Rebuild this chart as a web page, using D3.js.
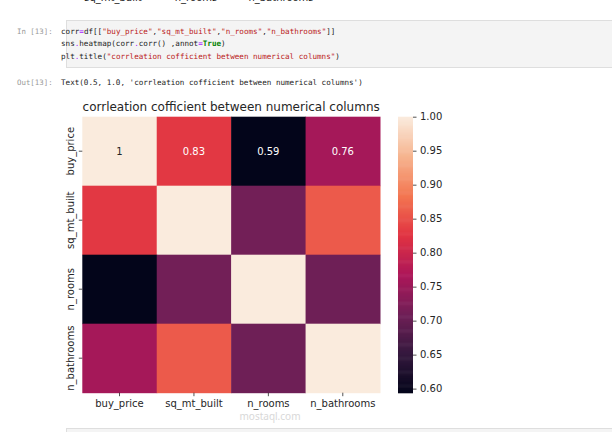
<!DOCTYPE html>
<html><head><meta charset="utf-8">
<script src="https://cdn.jsdelivr.net/npm/d3@7"></script>
<style>html,body{margin:0;padding:0;background:#fff;}svg{display:block;}</style>
</head><body>
<svg id="c" width="612" height="432"></svg>
<script>
const labels = ["buy_price","sq_mt_built","n_rooms","n_bathrooms"];
const corrRows = [
  [1.00, 0.83, 0.594, 0.76],
  [0.83, 1.00, 0.712, 0.86],
  [0.594, 0.712, 1.00, 0.708],
  [0.76, 0.86, 0.708, 1.00]
];
const annotText = [["1","0.83","0.59","0.76"]];
const cbTicks = [0.60,0.65,0.70,0.75,0.80,0.85,0.90,0.95,1.00];
const rocketStops = ["#03051a","#35193e","#701f57","#ad1759","#e13342","#f37651","#f6b48f","#faebdd"];
const vmin = 0.594, vmax = 1.0;

const svg = d3.select("#c");
const mono = "'DejaVu Sans Mono', monospace";
const sans = "'DejaVu Sans', sans-serif";

// --- notebook chrome ---
const topCut = [["sq_mt_built",113],["n_rooms",196],["n_bathrooms",281]];
svg.selectAll("text.cut").data(topCut).join("text")
  .attr("x",d=>d[1]).attr("y",0.8).attr("text-anchor","middle")
  .attr("font-family",sans).attr("font-size",10).attr("fill","#222").text(d=>d[0]);

svg.append("rect").attr("x",66.5).attr("y",20.5).attr("width",560).attr("height",47)
  .attr("fill","#f4f4f4").attr("stroke","#dedede");
svg.append("text").attr("x",17).attr("y",34).attr("font-family",mono).attr("font-size",7.4)
  .attr("fill","#999").text("In [13]:");
svg.append("text").attr("x",17).attr("y",85).attr("font-family",mono).attr("font-size",7.4)
  .attr("fill","#999").text("Out[13]:");

const P="#aa22ff", S="#ba2121", K="#222", G="#008000";
const codeLines = [
  [["corr",K],["=",P],["df[[",K],["\"buy_price\"",S],[",",K],["\"sq_mt_built\"",S],[",",K],["\"n_rooms\"",S],[",",K],["\"n_bathrooms\"",S],["]]",K]],
  [["sns",K],[".",P],["heatmap(corr",K],[".",P],["corr() ,annot",K],["=",P],["True",G,"bold"],[")",K]],
  [["plt",K],[".",P],["title(",K],["\"corrleation cofficient between numerical columns\"",S],[")",K]]
];
codeLines.forEach((ln,i)=>{
  const t = svg.append("text").attr("x",61).attr("y",34+i*12.3)
    .attr("font-family",mono).attr("font-size",7.6).attr("xml:space","preserve");
  ln.forEach(s=>t.append("tspan").attr("fill",s[1]).attr("font-weight",s[2]||"normal").text(s[0]));
});
svg.append("text").attr("x",61).attr("y",85).attr("font-family",mono).attr("font-size",7.6)
  .attr("fill","#222").text("Text(0.5, 1.0, 'corrleation cofficient between numerical columns')");

svg.append("rect").attr("x",66.5).attr("y",428.5).attr("width",560).attr("height",20)
  .attr("fill","#f4f4f4").attr("stroke","#dedede");

// --- heatmap ---
const L=82.3, R=380, T=116.7, B=392.7;
const x = d3.scaleBand().domain(labels).range([L,R]);
const y = d3.scaleBand().domain(labels).range([T,B]);
const rocket = d3.scaleLinear().domain(rocketStops.map((d,i)=>i/(rocketStops.length-1)))
  .range(rocketStops).interpolate(d3.interpolateRgb).clamp(true);
const color = v => rocket((v-vmin)/(vmax-vmin));

const cells = [];
corrRows.forEach((row,i)=>row.forEach((v,j)=>cells.push({r:labels[i],c:labels[j],v,i,j})));
svg.append("g").selectAll("rect").data(cells).join("rect")
  .attr("x",d=>x(d.c)).attr("y",d=>y(d.r))
  .attr("width",x.bandwidth()+0.5).attr("height",y.bandwidth()+0.5)
  .attr("fill",d=>color(d.v));

const ann = [];
annotText.forEach((row,i)=>row.forEach((t,j)=>ann.push({t,i,j,v:corrRows[i][j]})));
svg.append("g").selectAll("text").data(ann).join("text")
  .attr("x",d=>x(labels[d.j])+x.bandwidth()/2).attr("y",d=>y(labels[d.i])+y.bandwidth()/2)
  .attr("dy","0.35em").attr("text-anchor","middle").attr("font-family",sans).attr("font-size",10)
  .attr("fill",d=>d.v>0.9?"#262626":"#ffffff").text(d=>d.t);

// axes
const xAxis = svg.append("g").attr("transform",`translate(0,${B})`)
  .call(d3.axisBottom(x).tickSize(3.5).tickPadding(3.5));
xAxis.select(".domain").remove();
xAxis.selectAll("text").attr("font-family",sans).attr("font-size",10).attr("fill","#262626");
xAxis.selectAll("line").attr("stroke","#262626").attr("stroke-width",0.8);

const yAxis = svg.append("g").attr("transform",`translate(${L},0)`)
  .call(d3.axisLeft(y).tickSize(3.5).tickPadding(3.5));
yAxis.select(".domain").remove();
yAxis.selectAll("line").attr("stroke","#262626").attr("stroke-width",0.8);
yAxis.selectAll("text").attr("font-family",sans).attr("font-size",10).attr("fill","#262626")
  .attr("text-anchor","middle").attr("dy",null).attr("x",null)
  .attr("transform",d=>`translate(-12,${0}) rotate(-90)`).attr("dy","0.35em");

// title
svg.append("text").attr("x",(L+R)/2).attr("y",110.5).attr("text-anchor","middle")
  .attr("font-family",sans).attr("font-size",12).attr("fill","#262626")
  .text("corrleation cofficient between numerical columns");

// colorbar
const cbL=398, cbW=15;
const cy = d3.scaleLinear().domain([vmin,vmax]).range([B,T]);
const steps = d3.range(0,256);
svg.append("g").selectAll("rect").data(steps).join("rect")
  .attr("x",cbL).attr("width",cbW)
  .attr("y",d=>cy(vmin+(d+1)/256*(vmax-vmin)))
  .attr("height",(B-T)/256+0.6)
  .attr("fill",d=>rocket((d+0.5)/256));
const cAxis = svg.append("g").attr("transform",`translate(${cbL+cbW},0)`)
  .call(d3.axisRight(cy).tickValues(cbTicks).tickFormat(d3.format(".2f")).tickSize(3.5).tickPadding(3.5));
cAxis.select(".domain").remove();
cAxis.selectAll("line").attr("stroke","#262626").attr("stroke-width",0.8);
cAxis.selectAll("text").attr("font-family",sans).attr("font-size",10).attr("fill","#262626");

// watermark
svg.append("text").attr("x",270).attr("y",420).attr("text-anchor","middle")
  .attr("font-family","'Noto Sans', sans-serif").attr("font-size",10).attr("fill","#cfcfcf")
  .attr("opacity",0.8).text("mostaql.com");
</script>
</body></html>
